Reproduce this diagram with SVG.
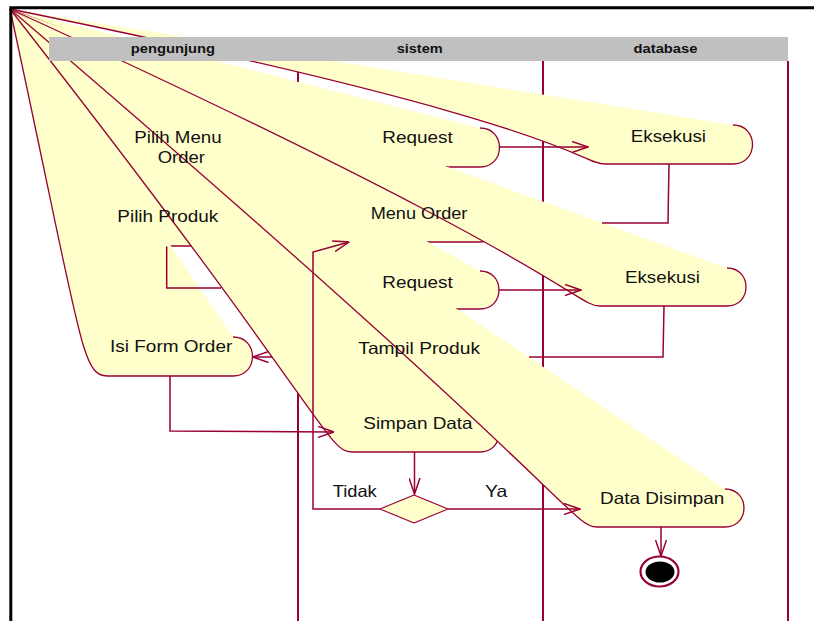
<svg xmlns="http://www.w3.org/2000/svg" width="814" height="621" viewBox="0 0 814 621">
  <defs>
    <style>
      .lane{stroke:#990033;stroke-width:2;fill:none}
      .node{fill:#FFFFCC;stroke:#990033;stroke-width:1.3;stroke-linejoin:round}
      .edge{fill:none;stroke:#990033;stroke-width:1.5}
      .lbl{font-family:"Liberation Sans",Arial,sans-serif;font-size:16.5px;fill:#111}
      .hdr{font-family:"Liberation Sans",Arial,sans-serif;font-size:13px;font-weight:bold;fill:#111}
    </style>
    <marker id="open" viewBox="0 0 17 12" refX="16.5" refY="6" markerWidth="17" markerHeight="12" markerUnits="userSpaceOnUse" orient="auto">
      <path d="M0.5,0.5 L16.5,6 L0.5,11.5" fill="none" stroke="#990033" stroke-width="1.5"/>
    </marker>
  </defs>

  <rect width="814" height="621" fill="#ffffff"/>

  <!-- swimlane dividers -->
  <g id="lanes">
    <line class="lane" x1="298" y1="61" x2="298" y2="621"/>
    <line class="lane" x1="543" y1="61" x2="543" y2="621"/>
    <line class="lane" x1="788" y1="61" x2="788" y2="621"/>
  </g>

  <!-- activity states (each outline's start corner collapses to the frame origin) -->
  <g id="nodes">
    <g id="node-pilih-menu-order"><path class="node" d="M236,130 C262,130 262,169 236,169 L120,169 C94,169 94,130 10,9"/></g>
    <g id="node-request-1"><path class="node" d="M480,128 C506,128 506,167 480,167 L357,167 C331,167 331,128 10,9"/></g>
    <g id="node-eksekusi-1"><path class="node" d="M733,125 C759,125 759,164 733,164 L605,164 C579,164 579,125 10,9"/></g>
    <g id="node-menu-order"><path class="node" d="M480,203 C506,203 506,242 480,242 L357,242 C331,242 331,203 10,9"/></g>
    <g id="node-pilih-produk"><path class="node" d="M226,207 C252,207 252,246 226,246 L110,246 C84,246 84,207 10,9"/></g>
    <g id="node-request-2"><path class="node" d="M480,271 C505.3,271 505.3,309 480,309 L357,309 C331.7,309 331.7,271 10,9"/></g>
    <g id="node-eksekusi-2"><path class="node" d="M727,268 C752.3,268 752.3,306 727,306 L600,306 C574.7,306 574.7,268 10,9"/></g>
    <g id="node-tampil-produk"><path class="node" d="M480,339 C505.3,339 505.3,377 480,377 L357,377 C331.7,377 331.7,339 10,9"/></g>
    <g id="node-isi-form-order"><path class="node" d="M233,337 C259,337 259,376 233,376 L107,376 C81,376 81,337 10,9"/></g>
    <g id="node-simpan-data"><path class="node" d="M480,414 C505.3,414 505.3,452 480,452 L352,452 C326.7,452 326.7,414 10,9"/></g>
    <g id="node-data-disimpan"><path class="node" d="M725,489 C750.3,489 750.3,527 725,527 L597,527 C571.7,527 571.7,489 10,9"/></g>
    <g id="node-decision"><polygon class="node" points="414,495 448,509 414,523 380,509"/></g>
    <g id="node-end">
      <ellipse cx="659.5" cy="571.5" rx="19" ry="15" fill="#ffffff" stroke="#990033" stroke-width="2.2"/>
      <ellipse cx="660" cy="572" rx="14.5" ry="10.5" fill="#000000"/>
    </g>
  </g>

  <!-- transitions -->
  <g id="connectors">
    <polyline class="edge" points="499,147 588,147" marker-end="url(#open)"/>
    <polyline class="edge" points="669,164 668,223 602,223"/>
    <polyline class="edge" points="166.7,246.5 166.7,288 221,288"/>
    <polyline class="edge" points="499,290 581,290" marker-end="url(#open)"/>
    <polyline class="edge" points="664,306 663,357 529,357"/>
    <polyline class="edge" points="272,357 252.5,357" marker-end="url(#open)"/>
    <polyline class="edge" points="170,376 170,431 334,432" marker-end="url(#open)"/>
    <polyline class="edge" points="414.5,452 414.5,494" marker-end="url(#open)"/>
    <polyline class="edge" points="380,509 313,509 313,252 349,242" marker-end="url(#open)"/>
    <polyline class="edge" points="448,509 580,509" marker-end="url(#open)"/>
    <polyline class="edge" points="661,527 661,556" marker-end="url(#open)"/>
    <text class="lbl" x="332.7" y="496.7" textLength="44" lengthAdjust="spacingAndGlyphs">Tidak</text>
    <text class="lbl" x="485" y="497.3" textLength="22.3" lengthAdjust="spacingAndGlyphs">Ya</text>
  </g>

  <!-- state names -->
  <g id="labels">
    <g id="label-pilih-menu-order">
      <text class="lbl" x="134.3" y="143.3" textLength="87.4" lengthAdjust="spacingAndGlyphs">Pilih Menu</text>
      <text class="lbl" x="157.7" y="163.3" textLength="47.3" lengthAdjust="spacingAndGlyphs">Order</text>
    </g>
    <text id="label-request-1" class="lbl" x="382.3" y="143.3" textLength="70.4" lengthAdjust="spacingAndGlyphs">Request</text>
    <text id="label-eksekusi-1" class="lbl" x="630.7" y="141.7" textLength="75.3" lengthAdjust="spacingAndGlyphs">Eksekusi</text>
    <text id="label-menu-order" class="lbl" x="370.7" y="219" textLength="96.7" lengthAdjust="spacingAndGlyphs">Menu Order</text>
    <text id="label-pilih-produk" class="lbl" x="117.3" y="222.3" textLength="101" lengthAdjust="spacingAndGlyphs">Pilih Produk</text>
    <text id="label-request-2" class="lbl" x="382.3" y="288.3" textLength="70.4" lengthAdjust="spacingAndGlyphs">Request</text>
    <text id="label-eksekusi-2" class="lbl" x="625" y="283.3" textLength="75" lengthAdjust="spacingAndGlyphs">Eksekusi</text>
    <text id="label-tampil-produk" class="lbl" x="358.3" y="354.3" textLength="121.7" lengthAdjust="spacingAndGlyphs">Tampil Produk</text>
    <text id="label-isi-form-order" class="lbl" x="110" y="352.3" textLength="122.3" lengthAdjust="spacingAndGlyphs">Isi Form Order</text>
    <text id="label-simpan-data" class="lbl" x="363.3" y="429.3" textLength="109.3" lengthAdjust="spacingAndGlyphs">Simpan Data</text>
    <text id="label-data-disimpan" class="lbl" x="600" y="504.3" textLength="124.3" lengthAdjust="spacingAndGlyphs">Data Disimpan</text>
  </g>

  <!-- swimlane header -->
  <g id="header">
    <rect x="49" y="37" width="739" height="24" fill="#C0C0C0"/>
    <text class="hdr" x="130.7" y="53.3" textLength="84.3" lengthAdjust="spacingAndGlyphs">pengunjung</text>
    <text class="hdr" x="396.7" y="53.3" textLength="46" lengthAdjust="spacingAndGlyphs">sistem</text>
    <text class="hdr" x="633.5" y="53.3" textLength="64" lengthAdjust="spacingAndGlyphs">database</text>
  </g>

  <!-- outer frame -->
  <path d="M10.8,621 V7.8 H814" fill="none" stroke="#000000" stroke-width="3"/>
</svg>
